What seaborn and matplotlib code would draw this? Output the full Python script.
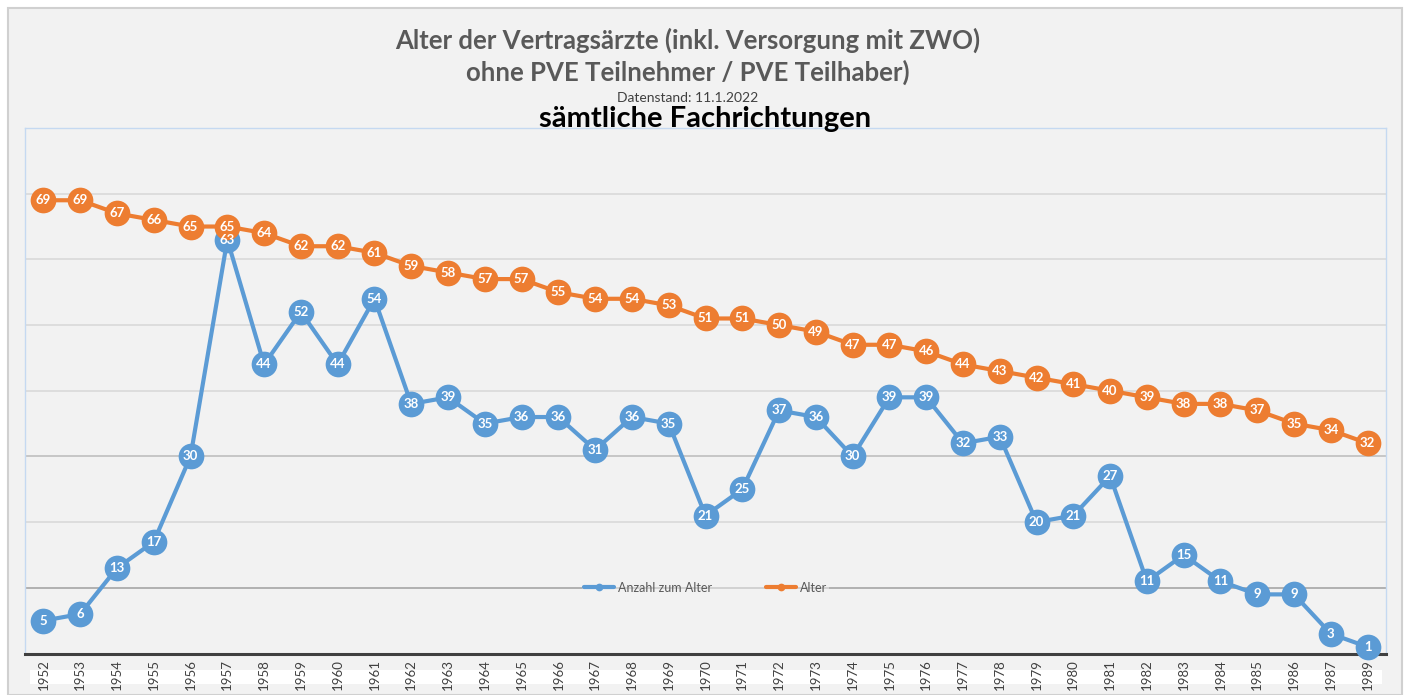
import numpy as np
import pandas as pd
import matplotlib
matplotlib.use("Agg")
import matplotlib.pyplot as plt
import seaborn as sns
from matplotlib.patches import Rectangle

# ============================================================
# DATA
# ============================================================

years = [str(y) for y in range(1952, 1988)] + ["1989"]

anzahl = [5, 6, 13, 17, 30, 63, 44, 52, 44, 54, 38, 39, 35, 36, 36, 31, 36, 35,
          21, 25, 37, 36, 30, 39, 39, 32, 33, 20, 21, 27, 11, 15, 11, 9, 9, 3, 1]

alter = [69, 69, 67, 66, 65, 65, 64, 62, 62, 61, 59, 58, 57, 57, 55, 54, 54, 53,
         51, 51, 50, 49, 47, 47, 46, 44, 43, 42, 41, 40, 39, 38, 38, 37, 35, 34, 32]

series_names = ["Anzahl zum Alter", "Alter"]
colors = ["#5B9BD5", "#ED7D31"]

df = pd.DataFrame({
    "Jahr": years * 2,
    "Wert": anzahl + alter,
    "Serie": [series_names[0]] * len(years) + [series_names[1]] * len(years),
})

# ============================================================
# STYLE
# ============================================================

sns.set_style("white")
plt.rcParams["font.family"] = ["Lato", "DejaVu Sans"]

bg = "#f2f2f2"

fig = plt.figure(figsize=(14.10, 6.95), dpi=100, facecolor="white")
fig.patches.append(Rectangle((8 / 1410, 0), 1394 / 1410, 687 / 695,
                             transform=fig.transFigure, facecolor=bg,
                             edgecolor="#d0d0d0", linewidth=1.5, zorder=-2))
# white strip behind the year labels
fig.patches.append(Rectangle((30 / 1410, 11 / 695), 1352 / 1410, 14 / 695,
                             transform=fig.transFigure, facecolor="white",
                             edgecolor="none", zorder=-1))

ax = fig.add_axes([25 / 1410, 41.5 / 695, 1361 / 1410, 525.5 / 695])
ax.set_facecolor(bg)

# ============================================================
# LINES
# ============================================================

sns.lineplot(
    data=df, x="Jahr", y="Wert", hue="Serie",
    hue_order=series_names, palette=colors,
    marker="o", markersize=18.5, markeredgewidth=0,
    linewidth=3, sort=False, ax=ax, zorder=3,
)
for line in ax.lines:
    line.set_clip_on(False)

# data labels
for vals in (anzahl, alter):
    for i, v in enumerate(vals):
        ax.text(i, v, str(v), ha="center", va="center", color="white",
                fontsize=9.5, fontweight="bold", zorder=5, clip_on=False)

# ============================================================
# AXES
# ============================================================

n = len(years)
ax.set_xlim(-0.5, n - 0.5)
ax.set_ylim(0, 80)
ax.set_xticks(range(n))
ax.set_xticklabels(years, rotation=90, fontsize=9.5, color="#404040")
ax.set_xticks(np.arange(-0.5, n, 1), minor=True)
ax.tick_params(axis="x", which="major", length=0, pad=4)
ax.tick_params(axis="x", which="minor", length=4, width=1.5,
               color="#404040", direction="out")
ax.set_xlabel("")
ax.set_ylabel("")

ax.set_yticks(np.arange(0, 81, 10))
ax.set_yticklabels([])
ax.tick_params(axis="y", length=0)
ax.yaxis.grid(True, color="#d9d9d9", linewidth=1.2)
ax.set_axisbelow(True)
grid = ax.get_ygridlines()
grid[1].set_color("#a6a6a6")
grid[3].set_color("#bfbfbf")

for side in ["left", "right", "top"]:
    ax.spines[side].set_color("#c5d9f1")
    ax.spines[side].set_linewidth(1)
ax.spines["bottom"].set_color("#404040")
ax.spines["bottom"].set_linewidth(2.2)

# legend
leg = ax.legend(loc="center", bbox_to_anchor=(0.5, 0.125), ncol=2,
                fontsize=9, frameon=True, facecolor=bg, framealpha=0.5,
                edgecolor="none", markerscale=0.3, handlelength=2.4,
                handletextpad=0.3, columnspacing=4.3, borderpad=0.2)
for t in leg.get_texts():
    t.set_color("#595959")

# ============================================================
# TITLES
# ============================================================

fig.text(688 / 1410, 1 - 40 / 695, "Alter der Vertragsärzte (inkl. Versorgung mit ZWO)",
         ha="center", va="center", fontsize=18.5, fontweight="bold", color="#595959")
fig.text(688 / 1410, 1 - 72 / 695, "ohne PVE Teilnehmer / PVE Teilhaber)",
         ha="center", va="center", fontsize=18.5, fontweight="bold", color="#595959")
fig.text(688 / 1410, 1 - 98 / 695, "Datenstand: 11.1.2022",
         ha="center", va="center", fontsize=10, color="#404040")
fig.text(705 / 1410, 1 - 119 / 695, "sämtliche Fachrichtungen",
         ha="center", va="center", fontsize=21, fontweight="bold", color="black")

fig.savefig("out.png", dpi=100, facecolor=fig.get_facecolor())
